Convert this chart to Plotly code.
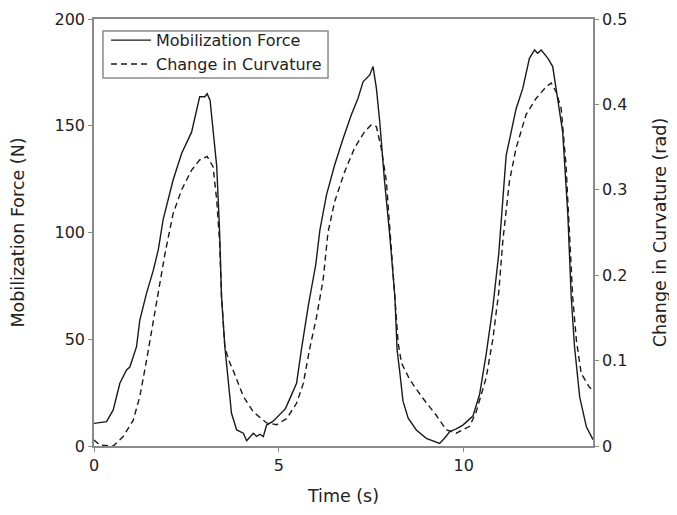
import plotly.graph_objects as go

# Mobilization force (N) vs time (s)
force_t = [0, 0.34, 0.52, 0.70, 0.88, 0.97, 1.15, 1.24, 1.42, 1.6, 1.74, 1.87, 2.14, 2.37,
           2.64, 2.78, 2.86, 3.0, 3.06, 3.14, 3.22, 3.32, 3.4, 3.45, 3.54, 3.63, 3.72, 3.86,
           4.04, 4.13, 4.22, 4.31, 4.4, 4.49, 4.58, 4.67, 4.84, 5.03, 5.18, 5.32, 5.48, 5.61,
           5.8, 6.0, 6.11, 6.29, 6.51, 6.74, 6.96, 7.14, 7.28, 7.46, 7.55, 7.64, 7.73, 7.86,
           8.0, 8.14, 8.2, 8.27, 8.36, 8.5, 8.72, 8.99, 9.17, 9.35, 9.5, 9.62, 9.8, 9.98,
           10.25, 10.43, 10.61, 10.79, 10.95, 11.05, 11.15, 11.42, 11.6, 11.78, 11.92, 12.0,
           12.1, 12.28, 12.41, 12.5, 12.68, 12.82, 12.91, 13.0, 13.14, 13.32, 13.45, 13.5]
force_n = [10.6, 11.4, 16.9, 29.4, 35.6, 37, 46.5, 59, 71.5, 82, 92, 106, 124.6, 137,
           147, 157, 163.6, 163.6, 165, 162, 149.5, 131, 99.7, 70, 46.5, 31, 15.3, 7.5,
           6, 2.5, 4.5, 6, 4.5, 5.5, 4.4, 9.8, 11.5, 14.8, 17.5, 23, 29.4, 45,
           66, 85, 101, 117.6, 131.6, 144, 155, 162.8, 170.6, 173.8, 177.7, 167.5, 152, 124,
           99, 70, 45, 35, 21, 13, 7.5, 3.6, 2.5, 1.2, 4, 6.7, 8, 9.8,
           14, 24, 43, 65, 90, 115, 136, 158, 167.5, 181.6, 185.5, 184,
           185.5, 181.6, 177.7, 167.5, 147, 108, 70, 46.5, 23, 9, 4.4, 3]

# Change in curvature (rad) vs time (s)
curv_t = [0, 0.16, 0.52, 0.79, 1.06, 1.24, 1.42, 1.6, 1.78, 1.92, 2.14, 2.37, 2.64, 2.86,
          3.06, 3.22, 3.32, 3.4, 3.45, 3.54, 3.65, 3.77, 4.04, 4.31, 4.67, 4.94, 5.21, 5.48,
          5.66, 5.84, 6.02, 6.2, 6.33, 6.51, 6.78, 7.05, 7.32, 7.5, 7.64, 7.77, 7.91, 8.0,
          8.14, 8.23, 8.32, 8.54, 8.86, 9.26, 9.53, 9.8, 10.16, 10.34, 10.61, 10.79, 10.95,
          11.06, 11.24, 11.42, 11.69, 11.96, 12.24, 12.37, 12.5, 12.64, 12.77, 12.86, 12.95,
          13.05, 13.18, 13.4, 13.48]
curv_rad = [0.007, 0.001, 0.0, 0.011, 0.030, 0.058, 0.10, 0.144, 0.19, 0.225, 0.272, 0.30,
            0.323, 0.335, 0.339, 0.327, 0.288, 0.237, 0.175, 0.116, 0.10, 0.088, 0.058, 0.040,
            0.027, 0.025, 0.032, 0.05, 0.073, 0.115, 0.151, 0.195, 0.25, 0.286, 0.321, 0.349,
            0.368, 0.376, 0.374, 0.349, 0.31, 0.255, 0.175, 0.12, 0.097, 0.078, 0.058, 0.036,
            0.019, 0.015, 0.023, 0.04, 0.08, 0.125, 0.18, 0.24, 0.31, 0.349, 0.388, 0.407,
            0.421, 0.425, 0.415, 0.395, 0.329, 0.255, 0.175, 0.124, 0.085, 0.069, 0.066]

FONT = "DejaVu Sans"
TXT = "#222222"
AX = "#8a8a8a"
TITLE_SIZE = 17.5

fig = go.Figure()
fig.add_trace(go.Scatter(x=force_t, y=force_n, mode="lines", name="Mobilization Force",
                         line=dict(color="#1a1a1a", width=1.4)))
fig.add_trace(go.Scatter(x=curv_t, y=curv_rad, mode="lines", name="Change in Curvature",
                         yaxis="y2", line=dict(color="#1a1a1a", width=1.4, dash="6px,4px")))

# the page body has an 8px default margin, so the figure is 8px smaller than the window
fig.update_layout(
    width=669, height=507,
    margin=dict(l=86, r=84, t=11, b=69),
    paper_bgcolor="white", plot_bgcolor="white",
    font=dict(family=FONT, size=16, color=TXT),
    showlegend=True,
    legend=dict(x=0.024, y=0.99, xanchor="left", yanchor="top",
                borderwidth=0, bgcolor="rgba(0,0,0,0)",
                font=dict(family=FONT, size=16, color=TXT),
                tracegroupgap=0, itemwidth=40),
    # compact legend frame
    shapes=[dict(type="rect", xref="x domain", yref="y domain",
                 x0=0.018, x1=0.469, y0=0.862, y1=0.972,
                 line=dict(color=AX, width=1.5), fillcolor="rgba(0,0,0,0)", layer="above")],
    xaxis=dict(range=[0, 13.5], tickvals=[0, 5, 10], ticks="outside", ticklen=4,
               tickcolor=AX, showline=True, linecolor=AX, linewidth=1.5, mirror=True,
               showgrid=False, zeroline=False, automargin=False,
               title=dict(text="Time (s)", standoff=16,
                          font=dict(family=FONT, size=TITLE_SIZE, color=TXT))),
    yaxis=dict(range=[0, 200], tickvals=[0, 50, 100, 150, 200], ticks="outside", ticklen=4,
               tickcolor=AX, showline=True, linecolor=AX, linewidth=1.5,
               showgrid=False, zeroline=False, automargin=False,
               title=dict(text="Mobilization Force (N)", standoff=25,
                          font=dict(family=FONT, size=TITLE_SIZE, color=TXT))),
    yaxis2=dict(range=[0, 0.5], tickvals=[0, 0.1, 0.2, 0.3, 0.4, 0.5],
                ticktext=["0", "0.1", "0.2", "0.3", "0.4", "0.5"],
                overlaying="y", side="right", ticks="outside", ticklen=4,
                tickcolor=AX, showline=True, linecolor=AX, linewidth=1.5,
                showgrid=False, zeroline=False, automargin=False,
                title=dict(text="Change in Curvature (rad)", standoff=27,
                           font=dict(family=FONT, size=TITLE_SIZE, color=TXT))),
)

fig.write_html("out.html")
